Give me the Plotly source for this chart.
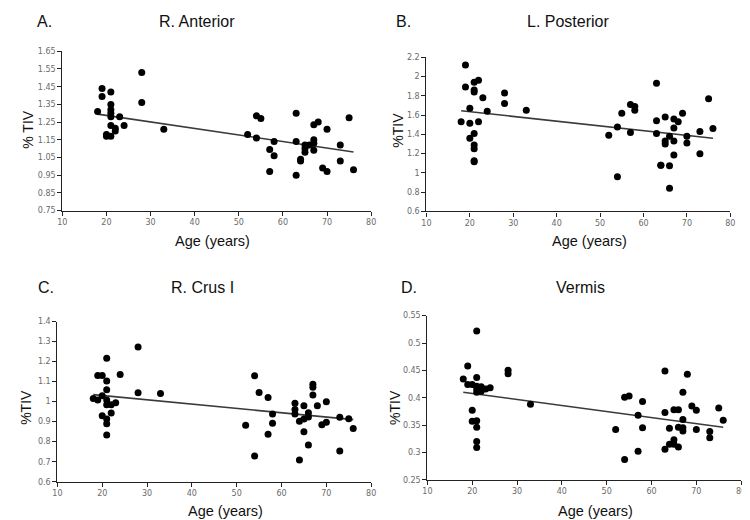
import plotly.graph_objects as go

W, H = 750, 520

# ---------------- data ----------------
age_a = [18, 19, 19, 20, 20, 21, 21, 21, 21, 21, 21, 21, 22, 22, 23, 24, 28, 28, 33,
         52, 54, 54, 55, 57, 57, 58, 58, 63, 63, 63, 64, 64, 65, 65, 65, 66, 67, 67, 67, 67,
         68, 69, 70, 70, 73, 73, 75, 76]
tiv_a = [1.31, 1.44, 1.395, 1.17, 1.18, 1.42, 1.35, 1.32, 1.30, 1.28, 1.23, 1.17, 1.215, 1.20,
         1.28, 1.23, 1.53, 1.36, 1.21,
         1.18, 1.285, 1.16, 1.27, 1.095, 0.97, 1.14, 1.06, 1.30, 1.14, 0.95, 1.04, 1.03,
         1.12, 1.10, 1.08, 1.12, 1.15, 1.13, 1.09, 1.235, 1.25, 0.99, 1.21, 0.97, 1.12, 1.03,
         1.275, 0.98]

age_b = [18, 19, 19, 20, 20, 20, 21, 21, 21, 21, 21, 21, 21, 21, 22, 22, 23, 24, 28, 28, 33,
         52, 54, 54, 55, 57, 57, 58, 58, 63, 63, 63, 64, 64, 65, 65, 65, 66, 66, 66,
         67, 67, 67, 67, 68, 69, 70, 70, 73, 73, 75, 76]
tiv_b = [1.53, 2.12, 1.89, 1.67, 1.515, 1.36, 1.94, 1.86, 1.84, 1.41, 1.29, 1.25, 1.125, 1.115,
         1.96, 1.53, 1.78, 1.64, 1.83, 1.72, 1.65,
         1.39, 1.475, 0.96, 1.62, 1.71, 1.42, 1.69, 1.65, 1.93, 1.54, 1.41, 1.08, 1.08,
         1.58, 1.33, 1.30, 1.38, 1.075, 0.84, 1.56, 1.465, 1.33, 1.185, 1.53, 1.62, 1.38, 1.31,
         1.43, 1.20, 1.77, 1.46]

age_c = [18, 19, 19, 20, 20, 20, 21, 21, 21, 21, 21, 21, 21, 21, 22, 22, 23, 24, 28, 28, 33,
         52, 54, 54, 55, 57, 57, 58, 58, 63, 63, 63, 64, 64, 65, 65, 65, 66, 66, 66,
         67, 67, 67, 68, 69, 70, 70, 73, 73, 75, 76]
tiv_c = [1.016, 1.008, 1.13, 1.13, 1.03, 0.93, 1.217, 1.103, 1.06, 1.008, 0.984, 0.913, 0.89,
         0.833, 0.984, 0.943, 0.995, 1.136, 1.273, 1.044, 1.041,
         0.882, 1.129, 0.729, 1.046, 1.021, 0.837, 0.938, 0.892, 0.992, 0.961, 0.938, 0.902,
         0.709, 0.979, 0.913, 0.85, 0.944, 0.923, 0.784, 1.087, 1.072, 1.033, 0.98, 0.884,
         1.0, 0.897, 0.922, 0.753, 0.915, 0.866]

age_d = [18, 19, 19, 20, 20, 20, 21, 21, 21, 21, 21, 21, 21, 21, 21, 22, 22, 23, 24, 28, 28, 33,
         52, 54, 54, 55, 57, 57, 58, 58, 63, 63, 63, 64, 64, 65, 65, 65, 66, 66, 66,
         67, 67, 67, 67, 68, 69, 70, 70, 73, 73, 75, 76]
tiv_d = [0.434, 0.458, 0.424, 0.424, 0.377, 0.357, 0.522, 0.437, 0.421, 0.416, 0.41, 0.358,
         0.346, 0.32, 0.309, 0.42, 0.412, 0.416, 0.418, 0.45, 0.444, 0.388,
         0.342, 0.401, 0.287, 0.403, 0.368, 0.302, 0.393, 0.345, 0.449, 0.373, 0.306, 0.344,
         0.315, 0.378, 0.323, 0.315, 0.378, 0.346, 0.31, 0.41, 0.36, 0.345, 0.339, 0.443,
         0.385, 0.377, 0.342, 0.338, 0.327, 0.381, 0.359]

trend_age = [18, 76]
trend_a = [1.295, 1.081]
trend_b = [1.645, 1.36]
trend_c = [1.035, 0.91]
trend_d = [0.41, 0.346]

panel_letters = ["A.", "B.", "C.", "D."]
panel_titles = ["R. Anterior", "L. Posterior", "R. Crus I", "Vermis"]
y_titles = ["% TIV", "%TIV", "%TIV", "%TIV"]
x_title = "Age (years)"

x_ticks = [10, 20, 30, 40, 50, 60, 70, 80]
y_ticks_a = [0.75, 0.85, 0.95, 1.05, 1.15, 1.25, 1.35, 1.45, 1.55, 1.65]
y_ticks_b = [0.6, 0.8, 1.0, 1.2, 1.4, 1.6, 1.8, 2.0, 2.2]
y_ticks_c = [0.6, 0.7, 0.8, 0.9, 1.0, 1.1, 1.2, 1.3, 1.4]
y_ticks_d = [0.25, 0.3, 0.35, 0.4, 0.45, 0.5, 0.55]
y_ticktext_a = ["0.75", "0.85", "0.95", "1.05", "1.15", "1.25", "1.35", "1.45", "1.55", "1.65"]
y_ticktext_b = ["0.6", "0.8", "1", "1.2", "1.4", "1.6", "1.8", "2", "2.2"]
y_ticktext_c = ["0.6", "0.7", "0.8", "0.9", "1", "1.1", "1.2", "1.3", "1.4"]
y_ticktext_d = ["0.25", "0.3", "0.35", "0.4", "0.45", "0.5", "0.55"]

# ---------------- layout geometry (pixels) ----------------
# plot boxes: (x0, x1, ytop, ybottom)
boxes = [(50, 363, 40, 202), (419, 727, 46, 203), (45, 363, 315, 478), (420, 738, 309, 476)]
letter_pos = [(32, 10), (396, 10), (33, 280), (401, 280)]
title_pos = [(186, 10), (562, 10), (192, 280), (575, 280)]
ytitle_pos = [(15, 119), (390, 120), (13, 402), (387, 402)]
xtitle_pos = [(202, 233), (584, 233), (215, 508), (590, 508)]

ages = [age_a, age_b, age_c, age_d]
tivs = [tiv_a, tiv_b, tiv_c, tiv_d]
trends = [trend_a, trend_b, trend_c, trend_d]
yticks = [y_ticks_a, y_ticks_b, y_ticks_c, y_ticks_d]
ytext = [y_ticktext_a, y_ticktext_b, y_ticktext_c, y_ticktext_d]

fig = go.Figure()
annotations = []
tickfont = dict(family="DejaVu Sans", size=8, color="#6a6a6a")
axis_common = dict(showline=True, linecolor="#222", linewidth=1.2, ticks="outside",
                   ticklen=4, tickcolor="#222", tickwidth=1, showgrid=False,
                   zeroline=False, tickfont=tickfont, fixedrange=True)
text_font = "Liberation Sans"

for i in range(4):
    xa = "x" if i == 0 else f"x{i+1}"
    ya = "y" if i == 0 else f"y{i+1}"
    x0, x1, yt, yb = boxes[i]
    fig.add_trace(go.Scatter(x=trend_age, y=trends[i], mode="lines",
                             line=dict(color="#3a3a3a", width=1.6),
                             xaxis=xa, yaxis=ya, showlegend=False, hoverinfo="skip"))
    fig.add_trace(go.Scatter(x=ages[i], y=tivs[i], mode="markers",
                             marker=dict(color="black", size=7),
                             xaxis=xa, yaxis=ya, showlegend=False, cliponaxis=False))
    xkey = "xaxis" if i == 0 else f"xaxis{i+1}"
    ykey = "yaxis" if i == 0 else f"yaxis{i+1}"
    fig.update_layout(**{
        xkey: dict(domain=[x0 / W, x1 / W], range=[10, 80], tickvals=x_ticks,
                   anchor=ya, **axis_common),
        ykey: dict(domain=[1 - yb / H, 1 - yt / H], range=[yticks[i][0], yticks[i][-1]],
                   tickvals=yticks[i], ticktext=ytext[i], anchor=xa, **axis_common),
    })
    lx, ly = letter_pos[i]
    annotations.append(dict(x=lx / W, y=1 - ly / H, xref="paper", yref="paper",
                            text=panel_letters[i], showarrow=False,
                            font=dict(family=text_font, size=16, color="#111"),
                            xanchor="center", yanchor="middle"))
    tx, ty = title_pos[i]
    annotations.append(dict(x=tx / W, y=1 - ty / H, xref="paper", yref="paper",
                            text=panel_titles[i], showarrow=False,
                            font=dict(family=text_font, size=16, color="#111"),
                            xanchor="center", yanchor="middle"))
    yx, yy = ytitle_pos[i]
    annotations.append(dict(x=yx / W, y=1 - yy / H, xref="paper", yref="paper",
                            text=y_titles[i], showarrow=False, textangle=-90,
                            font=dict(family=text_font, size=14, color="#111"),
                            xanchor="center", yanchor="middle"))
    ax_, ay_ = xtitle_pos[i]
    annotations.append(dict(x=ax_ / W, y=1 - ay_ / H, xref="paper", yref="paper",
                            text=x_title, showarrow=False,
                            font=dict(family=text_font, size=14.5, color="#111"),
                            xanchor="center", yanchor="middle"))

fig.update_layout(width=W, height=H, margin=dict(l=0, r=0, t=0, b=0),
                  plot_bgcolor="white", paper_bgcolor="white",
                  annotations=annotations, showlegend=False)

fig.write_html("out.html")
